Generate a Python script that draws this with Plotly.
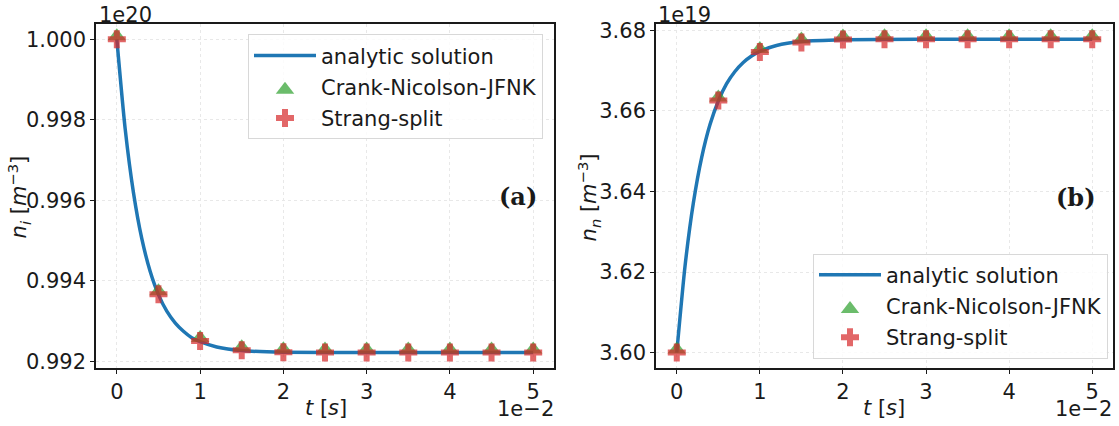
import plotly.graph_objects as go

W, H = 1119, 426

# time in units of 1e-2 s
t_curve = [0.0, 0.1, 0.2, 0.3, 0.4, 0.5, 0.6, 0.7, 0.8, 0.9, 1.0, 1.2, 1.5, 2.0, 3.0, 4.0, 5.0]
# n_i analytic (units of 1e20 m^-3)
ni_curve = [1.00000, 0.99778, 0.99619, 0.99505, 0.99424, 0.99366, 0.99325, 0.99296,
            0.99275, 0.99259, 0.99249, 0.99236, 0.99227, 0.99223, 0.99222, 0.99222, 0.99222]
# n_n analytic (units of 1e19 m^-3)
nn_curve = [3.60000, 3.62159, 3.63719, 3.64847, 3.65660, 3.66247, 3.66675, 3.66979,
            3.67202, 3.67362, 3.67478, 3.67623, 3.67721, 3.67768, 3.67780, 3.67780, 3.67780]

t_pts = [0.0, 0.5, 1.0, 1.5, 2.0, 2.5, 3.0, 3.5, 4.0, 4.5, 5.0]
ni_cn = [1.00000, 0.99367, 0.99251, 0.99228, 0.99223, 0.99222, 0.99222, 0.99222, 0.99222, 0.99222, 0.99222]
ni_ss = [1.00000, 0.99367, 0.99251, 0.99228, 0.99223, 0.99222, 0.99222, 0.99222, 0.99222, 0.99222, 0.99222]
nn_cn = [3.60000, 3.66260, 3.67462, 3.67700, 3.67770, 3.67780, 3.67780, 3.67780, 3.67780, 3.67780, 3.67780]
nn_ss = [3.60000, 3.66260, 3.67462, 3.67700, 3.67770, 3.67780, 3.67780, 3.67780, 3.67780, 3.67780, 3.67780]

x_ticks = [0, 1, 2, 3, 4, 5]
ni_ticks = [0.992, 0.994, 0.996, 0.998, 1.000]
nn_ticks = [3.60, 3.62, 3.64, 3.66, 3.68]

BLUE = "#1f77b4"
GREEN = "rgba(44,160,44,0.7)"
RED = "rgba(214,39,40,0.7)"
FONT = "DejaVu Sans"
TXT = "#1a1a1a"

fig = go.Figure()

def add_panel(xa, ya, curve, cn, ss, legend, tag):
    fig.add_trace(go.Scatter(x=t_curve, y=curve, mode="lines",
                             line=dict(color=BLUE, width=3.5, shape="spline", smoothing=0.6),
                             name="analytic solution", xaxis=xa, yaxis=ya, legend=legend,
                             legendgroup=tag + "a"))
    fig.add_trace(go.Scatter(x=t_pts, y=cn, mode="markers",
                             marker=dict(symbol="triangle-down", angle=180, standoff=3,
                                         size=16, color=GREEN, line=dict(width=0)),
                             name="Crank-Nicolson-JFNK", xaxis=xa, yaxis=ya, legend=legend,
                             legendgroup=tag + "b"))
    fig.add_trace(go.Scatter(x=t_pts, y=ss, mode="markers",
                             marker=dict(symbol="cross", size=15, color=RED, line=dict(width=0)),
                             name="Strang-split", xaxis=xa, yaxis=ya, legend=legend,
                             legendgroup=tag + "c"))

add_panel("x", "y", ni_curve, ni_cn, ni_ss, "legend", "L")
add_panel("x2", "y2", nn_curve, nn_cn, nn_ss, "legend2", "R")

ydom = [1 - 372 / H, 1 - 19 / H]
axis_common = dict(showline=True, linecolor=TXT, linewidth=1.6, mirror=True,
                   ticks="outside", ticklen=4, tickwidth=1.2, tickcolor=TXT,
                   showgrid=True, gridcolor="#e8e8e8", griddash="dot", gridwidth=1,
                   zeroline=False, tickfont=dict(family=FONT, size=21, color=TXT))

legend_common = dict(bgcolor="rgba(255,255,255,0.8)", bordercolor="#d8d8d8", borderwidth=1,
                     font=dict(family=FONT, size=21, color=TXT), itemwidth=62,
                     tracegroupgap=1)

fig.update_layout(
    width=W, height=H, margin=dict(l=0, r=0, t=0, b=0),
    paper_bgcolor="white", plot_bgcolor="white",
    font=dict(family=FONT, color=TXT),
    xaxis=dict(domain=[96 / W, 554 / W], range=[-0.25, 5.25], tickvals=x_ticks, anchor="y", **axis_common),
    yaxis=dict(domain=ydom, range=[0.991831, 1.000389], tickvals=ni_ticks, tickformat=".3f", anchor="x", **axis_common),
    xaxis2=dict(domain=[656 / W, 1113 / W], range=[-0.25, 5.25], tickvals=x_ticks, anchor="y2", **axis_common),
    yaxis2=dict(domain=ydom, range=[3.59611, 3.68169], tickvals=nn_ticks, tickformat=".2f", anchor="x2", **axis_common),
    legend=dict(x=543 / W, y=1 - 30 / H, xanchor="right", yanchor="top", **legend_common),
    legend2=dict(x=1108 / W, y=1 - 362 / H, xanchor="right", yanchor="bottom", **legend_common),
)

def ann(text, px, py, size=21, angle=0, xanchor="center", yanchor="middle", family=FONT):
    fig.add_annotation(text=text, x=px / W, y=1 - py / H, xref="paper", yref="paper",
                       showarrow=False, textangle=angle, xanchor=xanchor, yanchor=yanchor,
                       font=dict(family=family, size=size, color=TXT))

ann("1e20", 97, 10, xanchor="left")
ann("1e19", 656, 10, xanchor="left")
ann("1e\u22122", 556, 414, xanchor="right")
ann("1e\u22122", 1114, 414, xanchor="right")
ann("<i>t</i> [<i>s</i>]", 326, 413)
ann("<i>t</i> [<i>s</i>]", 884, 413)
ann("<i>n</i><sub><i>i</i></sub> [<i>m</i><sup>\u22123</sup>]", 19, 197, angle=-90)
ann("<i>n</i><sub><i>n</i></sub> [<i>m</i><sup>\u22123</sup>]", 589, 197, angle=-90)
ann("<b>(a)</b>", 518, 196, size=24, family="DejaVu Serif")
ann("<b>(b)</b>", 1076, 197, size=24, family="DejaVu Serif")

fig.write_html("out.html")
